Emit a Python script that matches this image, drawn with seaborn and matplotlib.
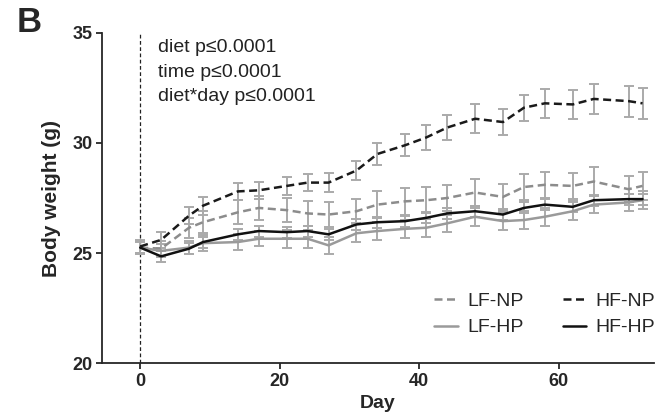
import matplotlib
matplotlib.use("Agg")
import matplotlib.pyplot as plt
import seaborn as sns
import pandas as pd
from matplotlib.lines import Line2D

days = [0, 3, 7, 9, 14, 17, 21, 24, 27, 31, 34, 38, 41, 44, 48, 52, 55, 58, 62, 65, 70, 72]

lf_np = [25.25, 25.2, 26.15, 26.4, 26.85, 27.05, 26.95, 26.8, 26.75, 26.9, 27.2, 27.35,
         27.4, 27.5, 27.75, 27.55, 28.0, 28.1, 28.05, 28.25, 27.9, 28.05]
hf_np = [25.3, 25.6, 26.7, 27.15, 27.8, 27.85, 28.05, 28.2, 28.2, 28.75, 29.5, 29.9,
         30.25, 30.7, 31.1, 30.95, 31.6, 31.8, 31.75, 32.0, 31.9, 31.8]
lf_hp = [25.25, 25.1, 25.25, 25.45, 25.5, 25.65, 25.65, 25.65, 25.35, 25.9, 26.0, 26.1,
         26.15, 26.35, 26.65, 26.45, 26.5, 26.65, 26.9, 27.2, 27.3, 27.4]
hf_hp = [25.25, 24.85, 25.2, 25.5, 25.85, 26.0, 25.95, 26.0, 25.85, 26.3, 26.4, 26.45,
         26.6, 26.8, 26.9, 26.75, 27.05, 27.2, 27.1, 27.4, 27.45, 27.45]

sem_lf_np = [0.3, 0.35, 0.45, 0.5, 0.55, 0.55, 0.55, 0.55, 0.55, 0.55, 0.6, 0.6,
             0.6, 0.6, 0.6, 0.6, 0.6, 0.6, 0.6, 0.65, 0.6, 0.65]
sem_hf_np = [0.3, 0.35, 0.4, 0.4, 0.4, 0.4, 0.4, 0.4, 0.42, 0.45, 0.5, 0.5,
             0.55, 0.55, 0.65, 0.6, 0.6, 0.65, 0.65, 0.7, 0.7, 0.7]
sem_lf_hp = [0.3, 0.3, 0.3, 0.35, 0.35, 0.35, 0.4, 0.4, 0.4, 0.4, 0.4, 0.4,
             0.4, 0.4, 0.4, 0.4, 0.4, 0.4, 0.4, 0.4, 0.4, 0.4]
sem_hf_hp = [0.25, 0.25, 0.25, 0.25, 0.25, 0.25, 0.25, 0.25, 0.25, 0.25, 0.25, 0.25,
             0.25, 0.25, 0.25, 0.25, 0.25, 0.25, 0.25, 0.25, 0.25, 0.25]

groups = ["LF-NP", "LF-HP", "HF-NP", "HF-HP"]
means = {"LF-NP": lf_np, "HF-NP": hf_np, "LF-HP": lf_hp, "HF-HP": hf_hp}
sems = {"LF-NP": sem_lf_np, "HF-NP": sem_hf_np, "LF-HP": sem_lf_hp, "HF-HP": sem_hf_hp}
colors = {"LF-NP": "#8c8c8c", "LF-HP": "#9a9a9a", "HF-NP": "#1a1a1a", "HF-HP": "#111111"}
dashed = {"LF-NP": True, "LF-HP": False, "HF-NP": True, "HF-HP": False}

rows = []
for g in groups:
    for d, m, s in zip(days, means[g], sems[g]):
        rows.append({"Day": d, "Weight": m, "SEM": s, "Group": g})
df = pd.DataFrame(rows)

sns.set_style("ticks")
plt.rcParams["font.family"] = ["Liberation Sans", "DejaVu Sans"]

fig = plt.figure(figsize=(6.55, 4.16), dpi=100)
ax = fig.add_axes([0.156, 0.127, 0.842, 0.794])

# error bars (gray for all groups)
for g in ["LF-NP", "LF-HP", "HF-NP", "HF-HP"]:
    sub = df[df.Group == g]
    ax.errorbar(sub.Day, sub.Weight, yerr=sub.SEM, fmt="none", ecolor="#aaaaaa",
                elinewidth=1.4, capsize=3.8, capthick=1.4, zorder=2)

order = ["LF-NP", "LF-HP", "HF-HP", "HF-NP"]
for g in order:
    sub = df[df.Group == g]
    sns.lineplot(data=sub, x="Day", y="Weight", ax=ax, color=colors[g],
                 linewidth=1.8, errorbar=None, legend=False, zorder=3,
                 linestyle=(0, (3.2, 1.8)) if dashed[g] else "-")

ax.axvline(0, color="#222222", linestyle=(0, (3, 2)), linewidth=0.9, zorder=1)

ax.set_xlim(-5.45, 73.6)
ax.set_ylim(20, 35)
ax.set_xticks([0, 20, 40, 60])
ax.set_yticks([20, 25, 30, 35])
sns.despine(ax=ax)
ax.spines["left"].set_linewidth(1.3)
ax.spines["bottom"].set_linewidth(1.3)
ax.tick_params(axis="both", width=1.3, length=4, labelsize=13, pad=3)
for lab in ax.get_xticklabels() + ax.get_yticklabels():
    lab.set_fontweight("bold")
ax.set_xlabel("Day", fontsize=14, fontweight="bold", labelpad=4)
ax.set_ylabel("Body weight (g)", fontsize=15, fontweight="bold", labelpad=8)

ax.text(0.101, 0.98, "diet p≤0.0001\ntime p≤0.0001\ndiet*day p≤0.0001",
        transform=ax.transAxes, ha="left", va="top", fontsize=14,
        linespacing=1.55, color="#222222",
        family=["Liberation Sans", "DejaVu Sans"])

handles = [
    Line2D([], [], color=colors["LF-NP"], linewidth=1.8, linestyle=(0, (3.2, 1.8))),
    Line2D([], [], color=colors["LF-HP"], linewidth=1.8, linestyle="-"),
    Line2D([], [], color=colors["HF-NP"], linewidth=1.8, linestyle=(0, (3.2, 1.8))),
    Line2D([], [], color=colors["HF-HP"], linewidth=1.8, linestyle="-"),
]
ax.legend(handles, ["LF-NP", "LF-HP", "HF-NP", "HF-HP"], ncol=2, frameon=False,
          loc="lower right", bbox_to_anchor=(1.035, 0.028), fontsize=14,
          handlelength=1.2, handletextpad=0.5, columnspacing=2.0, labelspacing=0.45)

fig.text(0.025, 0.985, "B", fontsize=25, fontweight="bold", ha="left", va="top")

fig.savefig("out.png", dpi=100)
